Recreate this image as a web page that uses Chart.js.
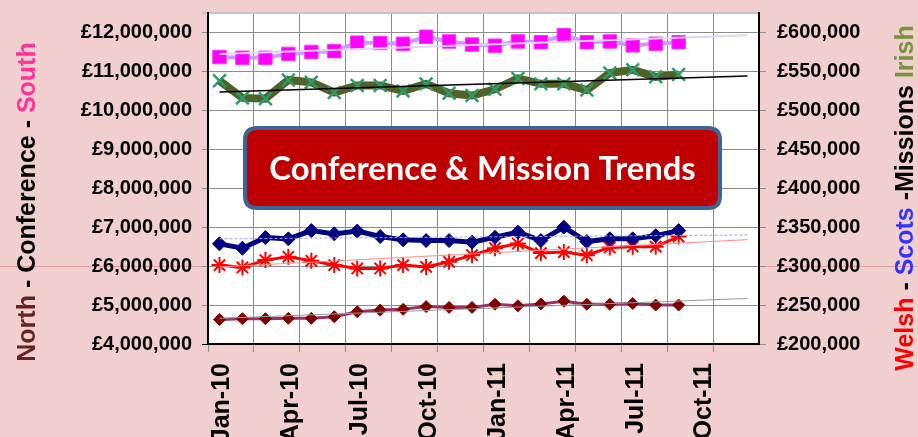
<!DOCTYPE html>
<html>
<head>
<meta charset="utf-8">
<script src="https://cdn.jsdelivr.net/npm/chart.js@4.4.1/dist/chart.umd.min.js"></script>
<style>
  html, body { margin: 0; padding: 0; overflow: hidden; background: #f1cfcf; }
  #wrap { width: 918px; height: 437px; }
</style>
</head>
<body>
<div id="wrap"><canvas id="c" width="918" height="437"></canvas></div>
<script>
// ---- categories (months) ----
const categories = ['Jan-10','Feb-10','Mar-10','Apr-10','May-10','Jun-10','Jul-10','Aug-10','Sep-10','Oct-10','Nov-10','Dec-10',
                    'Jan-11','Feb-11','Mar-11','Apr-11','May-11','Jun-11','Jul-11','Aug-11','Sep-11','Oct-11','Nov-11','Dec-11'];

// ---- left axis series (£) ----
const south = [11370000, 11350000, 11350000, 11450000, 11500000, 11520000, 11740000, 11730000, 11710000, 11890000, 11770000,
               11690000, 11660000, 11770000, 11750000, 11930000, 11750000, 11770000, 11670000, 11710000, 11750000];
const north = [4630000, 4650000, 4650000, 4660000, 4660000, 4700000, 4830000, 4870000, 4890000, 4960000, 4940000,
               4940000, 5020000, 4980000, 5030000, 5100000, 5020000, 5020000, 5040000, 5000000, 5000000];

// ---- right axis series (£) ----
const irish = [538000, 516000, 515000, 539000, 536000, 523000, 532000, 532000, 525000, 534000, 522000,
               519000, 527000, 541000, 534000, 534000, 526000, 548000, 552000, 543000, 546000];
const scots = [328600, 323000, 336700, 335000, 345600, 341400, 345000, 338000, 333700, 332800, 332800,
               330800, 337000, 343600, 332800, 350000, 331500, 335000, 335000, 339000, 345600];
const welsh = [301300, 298300, 307700, 312000, 306800, 301300, 297000, 297000, 301300, 299000, 305500,
               314000, 323000, 329000, 316700, 318000, 314000, 324000, 325000, 325000, 338000];

// ---- trendline end points (Jan-10 and Dec-11) ----
const southTrend = [11450000, 11930000];
const northTrend = [4660000, 5170000];
const irishTrend = [523600, 544100];
const scotsTrend = [335000, 340000];
const welshTrend = [299000, 334000];

// ---- tick values ----
const leftTicks = [4000000, 5000000, 6000000, 7000000, 8000000, 9000000, 10000000, 11000000, 12000000];
const rightTicks = [200000, 250000, 300000, 350000, 400000, 450000, 500000, 550000, 600000];
const leftMin = 4000000, leftMax = 12500000;
const rightMin = 200000, rightMax = 625000;

const titleText = 'Conference & Mission Trends';
const leftTitle = [['North', '#632523'], [' - Conference - ', '#000000'], ['South', '#ff3399']];
const rightTitle = [['Welsh', '#ff0000'], [' - ', '#000000'], ['Scots', '#3333ff'], [' -Missions ', '#000000'], ['Irish', '#77933c']];

function gbp(v) { return '£' + String(v).replace(/\B(?=(\d{3})+(?!\d))/g, ','); }
function trendData(ends) {
  const a = categories.map(() => null);
  a[0] = ends[0];
  a[categories.length - 1] = ends[1];
  return a;
}

const FONT = "'Liberation Sans', Arial, sans-serif";

const bgPlugin = {
  id: 'bg',
  beforeDraw(chart) {
    const ctx = chart.ctx, a = chart.chartArea;
    ctx.save();
    ctx.fillStyle = '#f1cfcf';
    ctx.fillRect(0, 0, chart.width, chart.height);
    // faint full-width line at the 6,000,000 level
    const y6 = Math.round(chart.scales.y.getPixelForValue(6000000)) + 0.5;
    ctx.strokeStyle = '#dca3a3';
    ctx.lineWidth = 1;
    ctx.beginPath(); ctx.moveTo(0, y6); ctx.lineTo(chart.width, y6); ctx.stroke();
    ctx.fillStyle = '#ffffff';
    ctx.fillRect(a.left, a.top, a.right - a.left, a.bottom - a.top);
    ctx.restore();
  }
};

function drawRotatedSegments(ctx, segs, cx, cy, font) {
  ctx.save();
  ctx.font = font;
  ctx.translate(cx, cy);
  ctx.rotate(-Math.PI / 2);
  let total = 0;
  segs.forEach(s => total += ctx.measureText(s[0]).width);
  let x = -total / 2;
  ctx.textBaseline = 'middle';
  ctx.textAlign = 'left';
  segs.forEach(s => {
    ctx.fillStyle = s[1];
    ctx.fillText(s[0], x, 0);
    x += ctx.measureText(s[0]).width;
  });
  ctx.restore();
}

const overlayPlugin = {
  id: 'overlay',
  afterDraw(chart) {
    const ctx = chart.ctx;
    drawRotatedSegments(ctx, leftTitle, 28, 202, 'bold 25px ' + FONT);
    drawRotatedSegments(ctx, rightTitle, 906, 198, 'bold 25px ' + FONT);

    // title box
    const x0 = 245, y0 = 128, x1 = 720, y1 = 208, r = 12;
    ctx.save();
    ctx.beginPath();
    ctx.moveTo(x0 + r, y0);
    ctx.lineTo(x1 - r, y0); ctx.quadraticCurveTo(x1, y0, x1, y0 + r);
    ctx.lineTo(x1, y1 - r); ctx.quadraticCurveTo(x1, y1, x1 - r, y1);
    ctx.lineTo(x0 + r, y1); ctx.quadraticCurveTo(x0, y1, x0, y1 - r);
    ctx.lineTo(x0, y0 + r); ctx.quadraticCurveTo(x0, y0, x0 + r, y0);
    ctx.closePath();
    ctx.fillStyle = '#bf0000';
    ctx.fill();
    ctx.lineWidth = 4;
    ctx.strokeStyle = '#3d6494';
    ctx.stroke();
    let size = 30;
    ctx.font = 'bold ' + size + "px Lato, 'Open Sans', sans-serif";
    const w = ctx.measureText(titleText).width;
    size = size * 426 / w;
    ctx.font = 'bold ' + size.toFixed(1) + "px Lato, 'Open Sans', sans-serif";
    ctx.fillStyle = '#ffffff';
    ctx.textAlign = 'center';
    ctx.textBaseline = 'middle';
    ctx.fillText(titleText, (x0 + x1) / 2, (y0 + y1) / 2 + 1);
    ctx.restore();
  }
};

const GRID = '#8c8c8c';

new Chart(document.getElementById('c'), {
  type: 'line',
  data: {
    labels: categories,
    datasets: [
      { label: 'South trend', data: trendData(southTrend), yAxisID: 'y', borderColor: '#e3d1ff', borderWidth: 2, pointRadius: 0, spanGaps: true, order: 0 },
      { label: 'North trend', data: trendData(northTrend), yAxisID: 'y', borderColor: '#9a9a9a', borderWidth: 1, pointRadius: 0, spanGaps: true, order: 0 },
      { label: 'Irish trend', data: trendData(irishTrend), yAxisID: 'y1', borderColor: '#000000', borderWidth: 1.5, pointRadius: 0, spanGaps: true, order: 0 },
      { label: 'Scots trend', data: trendData(scotsTrend), yAxisID: 'y1', borderColor: '#a0a0f0', borderWidth: 1, borderDash: [3, 2], pointRadius: 0, spanGaps: true, order: 0 },
      { label: 'Welsh trend', data: trendData(welshTrend), yAxisID: 'y1', borderColor: '#ff8c8c', borderWidth: 1, pointRadius: 0, spanGaps: true, order: 0 },

      { label: 'South', data: south, yAxisID: 'y', borderColor: '#cc99ff', borderWidth: 4,
        pointStyle: 'rect', pointRadius: 9.5, pointBackgroundColor: '#ff00ff', pointBorderColor: '#ff33ff', pointBorderWidth: 1, order: 1 },
      { label: 'North', data: north, yAxisID: 'y', borderColor: '#993366', borderWidth: 3,
        pointStyle: 'rectRot', pointRadius: 6, pointBackgroundColor: '#800000', pointBorderColor: '#800000', pointBorderWidth: 1, order: 1 },
      { label: 'Irish', data: irish, yAxisID: 'y1', borderColor: '#4f6228', borderWidth: 8,
        pointStyle: 'crossRot', pointRadius: 9, pointBorderColor: '#2e9a6a', pointBorderWidth: 2.5, order: 1 },
      { label: 'Scots', data: scots, yAxisID: 'y1', borderColor: '#000080', borderWidth: 5,
        pointStyle: 'rectRot', pointRadius: 7, pointBackgroundColor: '#000080', pointBorderColor: '#000080', pointBorderWidth: 1, order: 1 },
      { label: 'Welsh', data: welsh, yAxisID: 'y1', borderColor: '#ff0000', borderWidth: 3,
        pointStyle: 'star', pointRadius: 8, pointBorderColor: '#ff0000', pointBorderWidth: 2, order: 1 }
    ]
  },
  options: {
    responsive: false,
    animation: false,
    devicePixelRatio: 1,
    layout: { padding: { top: 13, left: 0, right: 0, bottom: 0 } },
    plugins: { legend: { display: false }, tooltip: { enabled: false } },
    elements: { line: { tension: 0 } },
    scales: {
      x: {
        type: 'category',
        offset: true,
        grid: {
          offset: true,
          color: c => (c.index % 2 === 0 ? GRID : 'rgba(0,0,0,0)'),
          lineWidth: 1,
          tickLength: 8
        },
        border: { color: '#000000', width: 2 },
        ticks: {
          autoSkip: false,
          minRotation: 90,
          maxRotation: 90,
          padding: 11,
          labelOffset: 3,
          color: '#000000',
          font: { family: FONT, size: 25, weight: 'bold' },
          callback: (v, i) => (i % 3 === 0 ? categories[i] : '')
        },
        afterFit: s => { s.height = 93; s.paddingLeft = 0; s.paddingRight = 0; }
      },
      y: {
        position: 'left',
        min: leftMin,
        max: leftMax,
        afterBuildTicks: s => { s.ticks = leftTicks.concat([leftMax]).map(v => ({ value: v })); },
        grid: {
          color: c => (c.tick && c.tick.value === leftMax ? '#c4c4c4' : (c.tick && c.tick.value === leftMin ? '#000000' : GRID)),
          lineWidth: c => (c.tick && c.tick.value === leftMax ? 2 : 1),
          tickLength: 6
        },
        border: { color: '#000000', width: 2 },
        ticks: {
          padding: 10,
          color: '#000000',
          font: { family: FONT, size: 20, weight: 'bold' },
          callback: v => (leftTicks.includes(v) ? gbp(v) : '')
        },
        afterFit: s => { s.width = 208; s.paddingTop = 0; s.paddingBottom = 0; }
      },
      y1: {
        position: 'right',
        min: rightMin,
        max: rightMax,
        afterBuildTicks: s => { s.ticks = rightTicks.concat([rightMax]).map(v => ({ value: v })); },
        grid: {
          drawOnChartArea: false,
          color: c => (c.tick && c.tick.value === rightMax ? 'rgba(0,0,0,0)' : GRID),
          tickLength: 7
        },
        border: { color: '#000000', width: 2 },
        ticks: {
          padding: 11,
          color: '#000000',
          font: { family: FONT, size: 20, weight: 'bold' },
          callback: v => (rightTicks.includes(v) ? gbp(v) : '')
        },
        afterFit: s => { s.width = 159; s.paddingTop = 0; s.paddingBottom = 0; }
      }
    }
  },
  plugins: [bgPlugin, overlayPlugin]
});
</script>
</body>
</html>
